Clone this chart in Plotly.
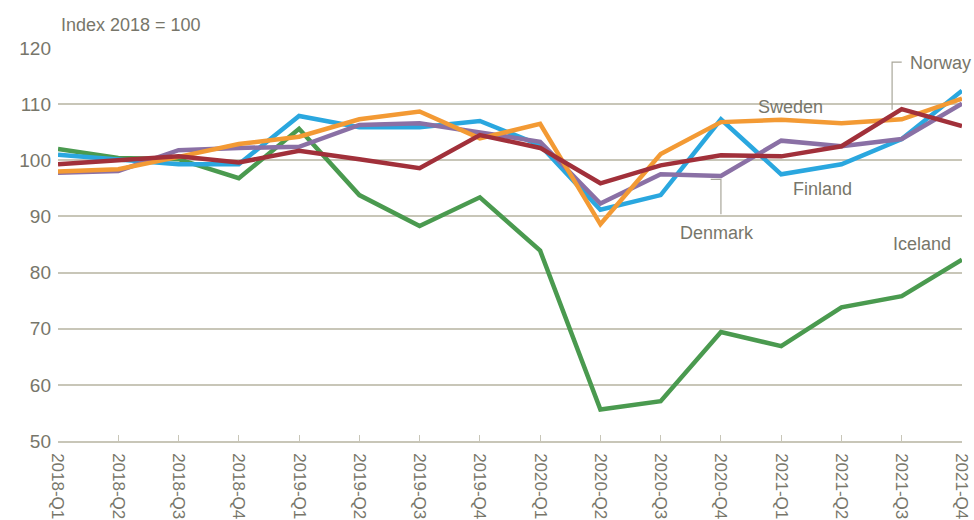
import plotly.graph_objects as go

quarters = ["2018-Q1", "2018-Q2", "2018-Q3", "2018-Q4",
            "2019-Q1", "2019-Q2", "2019-Q3", "2019-Q4",
            "2020-Q1", "2020-Q2", "2020-Q3", "2020-Q4",
            "2021-Q1", "2021-Q2", "2021-Q3", "2021-Q4"]

denmark = [97.8, 98.1, 101.8, 102.2, 102.4, 106.3, 106.6, 104.9,
           103.3, 92.3, 97.5, 97.2, 103.5, 102.5, 103.8, 110.1]
finland = [101.0, 100.2, 99.3, 99.3, 107.9, 105.9, 105.9, 107.0,
           102.7, 91.2, 93.8, 107.3, 97.5, 99.3, 103.8, 112.4]
iceland = [102.0, 100.4, 100.2, 96.8, 105.6, 93.8, 88.3, 93.4,
           83.9, 55.6, 57.1, 69.4, 66.9, 73.8, 75.8, 82.3]
norway = [99.3, 100.0, 100.7, 99.6, 101.7, 100.2, 98.6, 104.5,
          102.2, 95.9, 99.1, 100.9, 100.7, 102.5, 109.1, 106.1]
sweden = [98.0, 98.4, 100.6, 102.9, 104.2, 107.3, 108.7, 103.9,
          106.5, 88.6, 101.1, 106.8, 107.2, 106.6, 107.3, 111.0]

y_ticks = [50, 60, 70, 80, 90, 100, 110, 120]

TEXT = "#77766a"
GRID = "#c8c6b8"
FONT = "Liberation Sans Narrow, Arial Narrow, Liberation Sans, Arial, sans-serif"

series = [
    ("Iceland", iceland, "#4a9a4f"),
    ("Finland", finland, "#2aa7df"),
    ("Denmark", denmark, "#8a70a5"),
    ("Sweden", sweden, "#f39a34"),
    ("Norway", norway, "#a1303a"),
]

x_idx = list(range(len(quarters)))

fig = go.Figure()
for name, vals, color in series:
    fig.add_trace(go.Scatter(x=x_idx, y=vals, mode="lines", name=name,
                             line=dict(color=color, width=4.5),
                             showlegend=False))

labels = [
    ("Sweden", 12.16, 109.5, "center"),
    ("Finland", 12.68, 94.8, "center"),
    ("Denmark", 10.94, 87.0, "center"),
    ("Iceland", 14.85, 85.1, "right"),
    ("Norway", 14.10, 117.3, "left"),
]
for text, xx, yy, anc in labels:
    fig.add_annotation(x=xx, y=yy, text=text, showarrow=False,
                       font=dict(size=18, color=TEXT, family=FONT),
                       xanchor=anc, yanchor="middle")

# leader lines
fig.add_shape(type="path", path="M 13.84,109.0 L 13.84,117.5 L 14.0,117.5",
              line=dict(color="#a9a79a", width=1.2))
fig.add_shape(type="path", path="M 10.83,96.6 L 11.0,96.6 L 11.0,90.4",
              line=dict(color="#a9a79a", width=1.2))

fig.add_annotation(xref="paper", yref="paper", x=0, y=1, xshift=1, yshift=23,
                   text="Index 2018 = 100", showarrow=False,
                   xanchor="left", yanchor="middle",
                   font=dict(size=18, color=TEXT, family=FONT))

fig.update_layout(
    width=974, height=520,
    margin=dict(l=58, r=12, t=48, b=79),
    paper_bgcolor="white", plot_bgcolor="white",
    font=dict(family=FONT, color=TEXT, size=18),
)
fig.update_xaxes(
    range=[0, 15], tickmode="array", tickvals=x_idx, ticktext=quarters,
    tickangle=90, ticks="inside", ticklen=6, tickcolor=GRID,
    showline=True, linecolor=GRID, linewidth=1.5, showgrid=False,
    zeroline=False, automargin=False, ticklabelstandoff=7,
    tickfont=dict(size=17, color=TEXT, family=FONT),
)
fig.update_yaxes(
    range=[50, 120], tickmode="array", tickvals=y_ticks,
    showgrid=True, gridcolor=GRID, gridwidth=1.5, zeroline=False,
    showline=False, ticks="", ticklabelstandoff=6, automargin=False,
    tickfont=dict(size=19, color=TEXT, family=FONT),
)

fig.write_html("out.html",
               config={"displayModeBar": False},
               post_script="document.body.style.margin='0';"
                           "document.body.style.overflow='hidden';")
